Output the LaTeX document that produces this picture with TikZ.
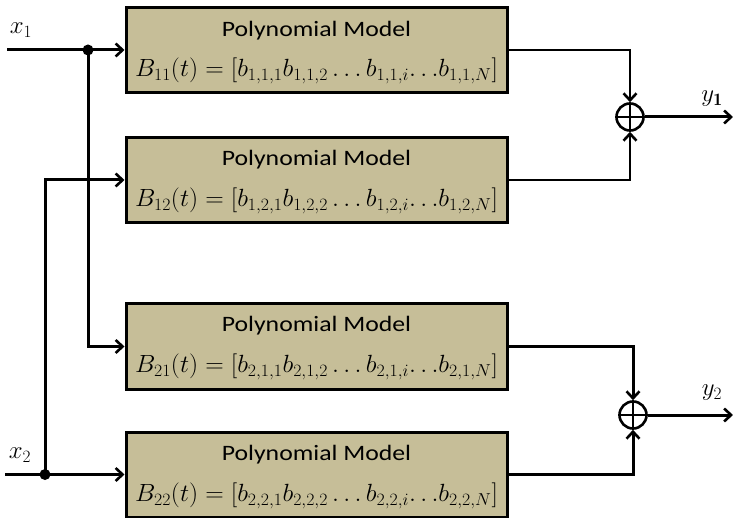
\documentclass[tikz,border=0pt]{standalone}
\usepackage{fontspec}
\newfontfamily\labelfont{Carlito}
\usetikzlibrary{arrows.meta}
\definecolor{boxfill}{RGB}{198,190,152}
\newcommand{\widetitle}[1]{\scalebox{1.17}[1]{#1}}
\newcommand{\wideformula}[1]{\scalebox{1.03}[1]{#1}}
\tikzset{
  model/.style={draw=black, line width=3pt, fill=boxfill, minimum width=381pt, minimum height=85pt, inner sep=0pt},
  title/.style={font=\labelfont\fontsize{22}{26}\selectfont, inner sep=0pt},
  formula/.style={font=\fontsize{23}{27}\selectfont, inner sep=0pt},
  wire/.style={line width=3pt},
  thinwire/.style={line width=2.3pt},
  feed/.style={-{Straight Barb[length=7pt,width=13pt,line width=2.6pt]}},
  junction/.style={circle, fill=black, minimum size=11pt, inner sep=0pt},
  adder/.style={circle, draw=black, line width=2.6pt, minimum size=27pt, inner sep=0pt},
  sig/.style={font=\fontsize{25}{28}\selectfont, inner sep=0pt}
}
\begin{document}
\begin{tikzpicture}[x=1pt,y=-1pt]
\useasboundingbox (0,0) rectangle (733,518);

% model blocks
\node[model] (b11) at (316.5,50) {};
\node[model] (b12) at (316.5,180) {};
\node[model] (b21) at (316.5,346.5) {};
\node[model] (b22) at (316.5,474.5) {};

\node[title] (t11) at (316.5,31) {\widetitle{Polynomial Model}};
\node[title] (t12) at (316.5,160) {\widetitle{Polynomial Model}};
\node[title] (t21) at (316.5,326) {\widetitle{Polynomial Model}};
\node[title] (t22) at (316.5,455) {\widetitle{Polynomial Model}};

\node[formula] (f11) at (316.5,71) {\wideformula{$B_{11}(t)=[b_{1,1,1}b_{1,1,2}\ldots b_{1,1,i}{\ldots}b_{1,1,N}]$}};
\node[formula] (f12) at (316.5,201) {\wideformula{$B_{12}(t)=[b_{1,2,1}b_{1,2,2}\ldots b_{1,2,i}{\ldots}b_{1,2,N}]$}};
\node[formula] (f21) at (316.5,367) {\wideformula{$B_{21}(t)=[b_{2,1,1}b_{2,1,2}\ldots b_{2,1,i}{\ldots}b_{2,1,N}]$}};
\node[formula] (f22) at (316.5,496) {\wideformula{$B_{22}(t)=[b_{2,2,1}b_{2,2,2}\ldots b_{2,2,i}{\ldots}b_{2,2,N}]$}};

% inputs and branch points
\coordinate (x1in) at (7,50);
\coordinate (x2in) at (5,474.5);
\node[junction] (j1) at (88,50) {};
\node[junction] (j2) at (45,474.5) {};
\node[sig] (lx1) at (21,30) {$x_1$};
\node[sig] (lx2) at (20,455) {$x_2$};

% adders and outputs
\node[adder] (s1) at (630,117) {};
\node[adder] (s2) at (633,415) {};
\draw[line width=2.2pt] (s1.north) -- (s1.south) (s1.west) -- (s1.east);
\draw[line width=2.2pt] (s2.north) -- (s2.south) (s2.west) -- (s2.east);
\coordinate (y1out) at (733,117);
\coordinate (y2out) at (733,415);
\node[sig] (ly1) at (712,99) {$y_{\mathbf{1}}$};
\node[sig] (ly2) at (712,393) {$y_2$};

% input wiring
\draw[wire,feed] (x1in) -- (b11.west);
\draw[wire,feed] (j1.center) |- (b21.west);
\draw[wire,feed] (x2in) -- (b22.west);
\draw[wire,feed] (j2.center) |- (b12.west);

% output wiring
\draw[thinwire,feed] (b11.east) -| (s1.north);
\draw[thinwire,feed] (b12.east) -| (s1.south);
\draw[wire,feed] (b21.east) -| (s2.north);
\draw[wire,feed] (b22.east) -| (s2.south);
\draw[wire,feed] (s1.east) -- (y1out);
\draw[wire,feed] (s2.east) -- (y2out);
\end{tikzpicture}
\end{document}
